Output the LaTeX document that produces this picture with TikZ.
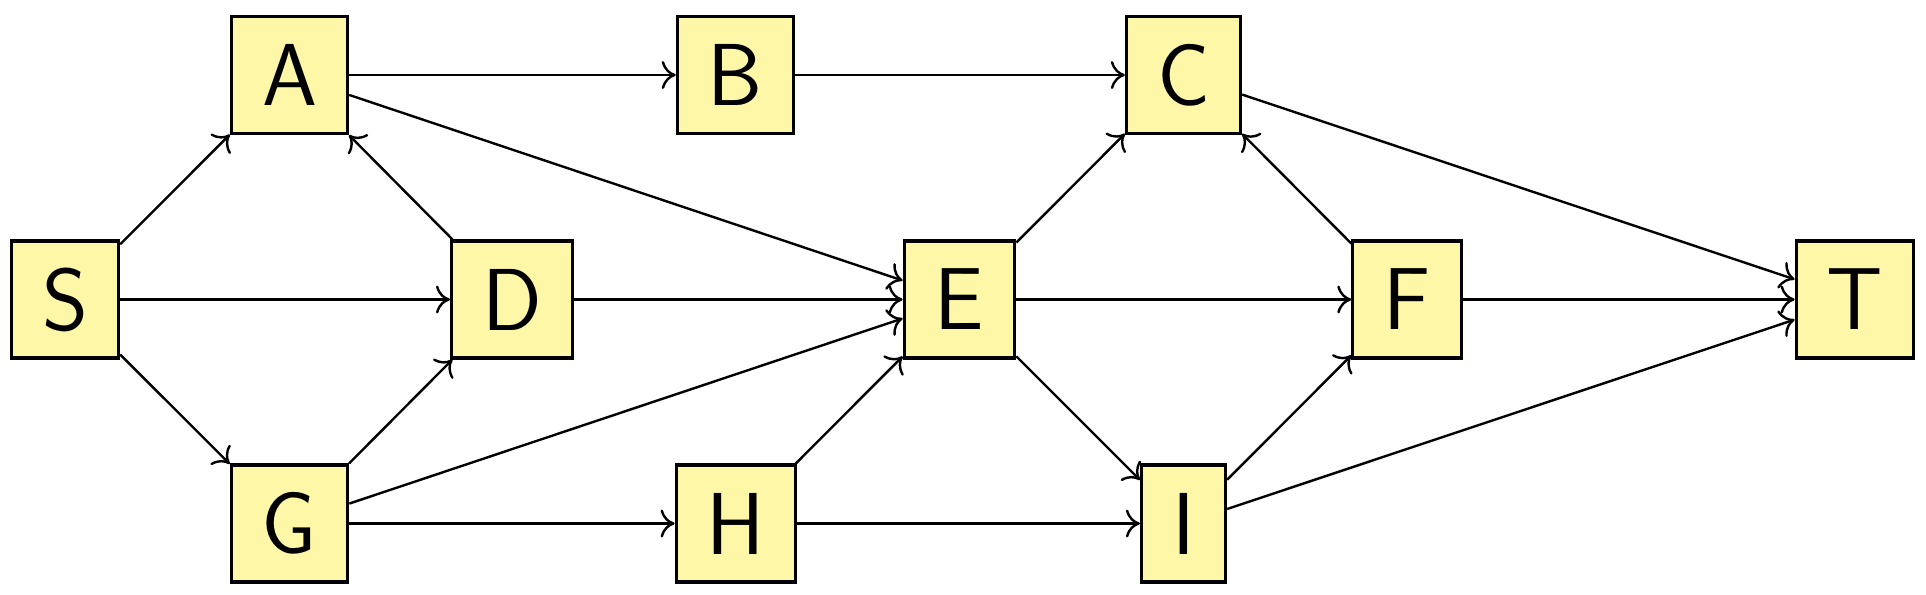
\documentclass[tikz,border=0pt]{standalone}
\usetikzlibrary{arrows.meta}
\definecolor{boxyellow}{RGB}{255,247,168}
\tikzset{every picture/.style={line width=1.2pt}}
\tikzset{
	vbox/.style={draw,line width=1.6pt,fill=boxyellow,inner xsep=15.3pt,inner ysep=0pt,minimum height=58.5pt,font=\fontsize{44}{50}\selectfont\sffamily},
	arc/.style={-{To[length=7pt,width=14pt]}}
}

\begin{document}
\begin{tikzpicture}[x=0.5pt,y=0.5pt,yscale=-1,xscale=1]
	\useasboundingbox (0,0) rectangle (1926,594);
	
	% Nodes
	\node [vbox] (S) at (65,299.5) {S};
	\node [vbox] (A) at (289.5,75) {A};
	\node [vbox] (B) at (735.5,75) {B};
	\node [vbox] (C) at (1183.5,75) {C};
	\node [vbox] (D) at (512,299.5) {D};
	\node [vbox] (E) at (959.5,299.5) {E};
	\node [vbox] (F) at (1407,299.5) {F};
	\node [vbox] (T) at (1855,299.5) {T};
	\node [vbox] (G) at (289.5,523.5) {G};
	\node [vbox] (H) at (736,523.5) {H};
	\node [vbox] (I) at (1183.5,523.5) {I};
	
	% Arcs
	\draw [arc] (S) -- (A);
	\draw [arc] (S) -- (D);
	\draw [arc] (S) -- (G);
	\draw [arc] (A) -- (B);
	\draw [arc] (A) -- (E);
	\draw [arc] (D) -- (A);
	\draw [arc] (G) -- (D);
	\draw [arc] (G) -- (E);
	\draw [arc] (G) -- (H);
	\draw [arc] (B) -- (C);
	\draw [arc] (D) -- (E);
	\draw [arc] (H) -- (E);
	\draw [arc] (H) -- (I);
	\draw [arc] (E) -- (C);
	\draw [arc] (E) -- (F);
	\draw [arc] (E) -- (I);
	\draw [arc] (F) -- (C);
	\draw [arc] (C) -- (T);
	\draw [arc] (F) -- (T);
	\draw [arc] (I) -- (F);
	\draw [arc] (I) -- (T);
	
\end{tikzpicture}
\end{document}
